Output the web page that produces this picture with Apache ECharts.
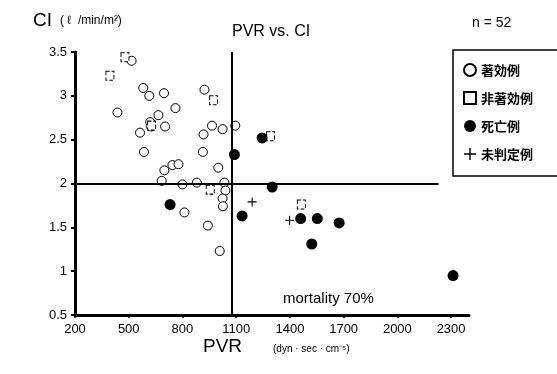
<!DOCTYPE html>
<html>
<head>
<meta charset="utf-8">
<script src="https://cdn.jsdelivr.net/npm/echarts@6/dist/echarts.min.js"></script>
<style>
html,body{margin:0;padding:0;background:#fff;overflow:hidden;}
#chart{width:557px;height:374px;}
</style>
</head>
<body>
<div id="chart"></div>
<script>
// Data (PVR, CI)
var effective = [
  [516,3.40],[581,3.09],[615,3.00],[697,3.03],[923,3.07],[437,2.81],[761,2.86],
  [666,2.78],[620,2.70],[625,2.65],[563,2.58],[703,2.65],[918,2.56],[965,2.66],
  [1024,2.62],[1095,2.66],[585,2.36],[914,2.36],[699,2.15],[744,2.21],[778,2.22],
  [1000,2.18],[684,2.03],[800,1.99],[880,2.01],[1034,2.01],[1040,1.92],[1024,1.83],
  [1026,1.74],[811,1.67],[942,1.52],[1008,1.23]
];
var nonEffective = [
  [479,3.44],[395,3.23],[974,2.95],[628,2.66],[955,1.93],[1292,2.54],[1464,1.76]
];
var deaths = [
  [1090,2.33],[1245,2.52],[1301,1.96],[731,1.76],[1133,1.63],[1460,1.60],
  [1553,1.60],[1675,1.55],[1522,1.31],[2311,0.95]
];
var undetermined = [
  [1189,1.79],[1398,1.58]
];
var seriesNames = ['著効例','非著効例','死亡例','未判定例'];
var xTicks = {min:200, max:2400, interval:300};
var yTicks = {min:0.5, max:3.5, interval:0.5};
var pvrCut = 1075;
var ciCut = 2;
var ciLineEnd = 2230;

var chart = echarts.init(document.getElementById('chart'), null, {renderer:'canvas'});
var font = 'Liberation Sans, Arial, sans-serif';
var plusPath = 'path://M4.4,0H5.6V4.4H10V5.6H5.6V10H4.4V5.6H0V4.4H4.4Z';

chart.setOption({
  animation:false,
  backgroundColor:'#fff',
  grid:{left:75, right:88, top:52, bottom:59},
  xAxis:{
    type:'value', min:xTicks.min, max:xTicks.max, interval:xTicks.interval,
    axisLine:{lineStyle:{color:'#000', width:3}},
    axisTick:{show:true, length:3, lineStyle:{color:'#000', width:1.5}},
    axisLabel:{color:'#000', fontSize:13, fontFamily:font, margin:8, showMaxLabel:false,
      formatter:function(v){return String(v);}},
    splitLine:{show:false}
  },
  yAxis:{
    type:'value', min:yTicks.min, max:yTicks.max, interval:yTicks.interval,
    axisLine:{show:true, lineStyle:{color:'#000', width:3}},
    axisTick:{show:true, length:4, lineStyle:{color:'#000', width:2}},
    axisLabel:{color:'#000', fontSize:13, fontFamily:font, margin:8,
      formatter:function(v){return String(v);}},
    splitLine:{show:false}
  },
  legend:{
    orient:'vertical', left:453, top:50,
    padding:[12,60,14,10], itemGap:12, itemWidth:12, itemHeight:12,
    borderColor:'#000', borderWidth:1.5, borderRadius:0,
    textStyle:{color:'#000', fontSize:13, fontWeight:'bold', lineHeight:16,
      fontFamily:'Noto Sans CJK JP, sans-serif'},
    data:[
      {name:seriesNames[0]},
      {name:seriesNames[1]},
      {name:seriesNames[2]},
      {name:seriesNames[3]}
    ]
  },
  graphic:[
    {type:'text', left:33, top:11, style:{text:'CI', font:'19px '+font, fill:'#000'}},
    {type:'text', left:60, top:15, style:{text:'( ℓ  /min/m²)', font:'12px '+font, fill:'#000'}},
    {type:'text', left:232, top:24, style:{text:'PVR vs. CI', font:'16px '+font, fill:'#000'}},
    {type:'text', left:472, top:16, style:{text:'n = 52', font:'14px '+font, fill:'#000'}},
    {type:'text', left:283, top:291, style:{text:'mortality 70%', font:'15px '+font, fill:'#000'}},
    {type:'text', left:203, top:337, style:{text:'PVR', font:'19px '+font, fill:'#000'}},
    {type:'text', left:273, top:344, style:{text:'(dyn · sec · cm⁻⁵)', font:'10px '+font, fill:'#000'}}
  ],
  series:[
    {
      name:seriesNames[0], type:'scatter', data:effective, symbol:'circle', symbolSize:9,
      itemStyle:{color:'#fff', borderColor:'#000', borderWidth:1, opacity:1}, z:3,
      markLine:{
        silent:true, symbol:'none', animation:false,
        label:{show:false},
        lineStyle:{color:'#000', width:2, type:'solid', opacity:1},
        data:[
          [{coord:[pvrCut, yTicks.min]},{coord:[pvrCut, yTicks.max]}],
          [{coord:[xTicks.min, ciCut]},{coord:[ciLineEnd, ciCut]}]
        ]
      }
    },
    {
      name:seriesNames[1], type:'scatter', data:nonEffective, symbol:'rect', symbolSize:[8,9],
      itemStyle:{color:'#fff', borderColor:'#000', borderWidth:1, borderType:'dashed', opacity:1}, z:3
    },
    {
      name:seriesNames[2], type:'scatter', data:deaths, symbol:'circle', symbolSize:11,
      itemStyle:{color:'#000', opacity:1}, z:4
    },
    {
      name:seriesNames[3], type:'scatter', data:undetermined, symbol:plusPath, symbolSize:9,
      itemStyle:{color:'#000', opacity:1}, z:4
    }
  ]
});
</script>
</body>
</html>
